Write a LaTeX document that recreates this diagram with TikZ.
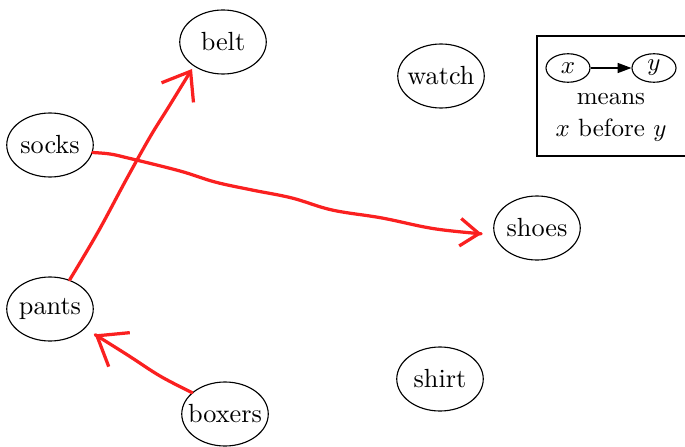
\documentclass[tikz,border=0pt]{standalone}
\usetikzlibrary{shapes.geometric,arrows.meta}
\definecolor{pen}{RGB}{250,32,32}
\newcommand{\zw}[1]{\makebox[0pt]{#1}}
\begin{document}
\begin{tikzpicture}[x=0.4pt,y=-0.4pt,
  item/.style={ellipse,draw,line width=0.45pt,inner sep=0pt,minimum width=34.6pt,minimum height=25.6pt,font=\fontsize{10.5}{12}\selectfont},
  keyitem/.style={ellipse,draw,line width=0.45pt,inner sep=0pt,minimum width=17.6pt,minimum height=11.4pt},
  stroke/.style={draw=pen,line width=1.3pt,line cap=round,line join=round},
  plain/.style={inner sep=0pt}
]
\useasboundingbox (0,0) rectangle (685,446);
% tasks
\node[item] (belt)   at (223,42)  {\zw{belt}};
\node[item] (watch)  at (441,76)  {\zw{watch}};
\node[item] (socks)  at (50,145)  {\zw{socks}};
\node[item] (shoes)  at (537,228) {\zw{shoes}};
\node[item] (pants)  at (50,309)  {\zw{pants}};
\node[item] (shirt)  at (440,379) {\zw{shirt}};
\node[item] (boxers) at (225,414) {\zw{boxers}};
% legend
\draw[line width=0.45pt] (537,36) rectangle (700,156);
\node[keyitem] (kx) at (568,68) {\zw{$x$}};
\node[keyitem] (ky) at (654,68) {\zw{$y$}};
\draw[line width=0.45pt,-{Triangle[length=5.5pt,width=4pt]}] (kx) -- (ky);
\node[plain] (means) at (611,99) {means};
\node[plain] (xby) at (611,130) {$x$ before $y$};
% red hand-drawn arrows
\draw[stroke,-{Straight Barb[length=10pt,width=15pt,line width=1.3pt]}]
  plot[smooth,tension=0.6] coordinates {(pants.56) (98,232) (126,180) (150,137) (168,108) (192,69)};
\draw[stroke,shorten >=5pt,-{Straight Barb[length=7.5pt,width=11pt,line width=1.3pt]}]
  plot[smooth,tension=0.6] coordinates {(socks.-10) (110,154) (128,158) (180,171) (215,182) (252,190) (292,198) (332,210) (382,218) (436,229) (shoes.189)};
\draw[stroke,shorten >=4.5pt,-{Straight Barb[length=10.5pt,width=16pt,line width=1.3pt]}]
  plot[smooth,tension=0.6] coordinates {(boxers.147) (160,376) (126,354) (pants.-29)};
\end{tikzpicture}
\end{document}
